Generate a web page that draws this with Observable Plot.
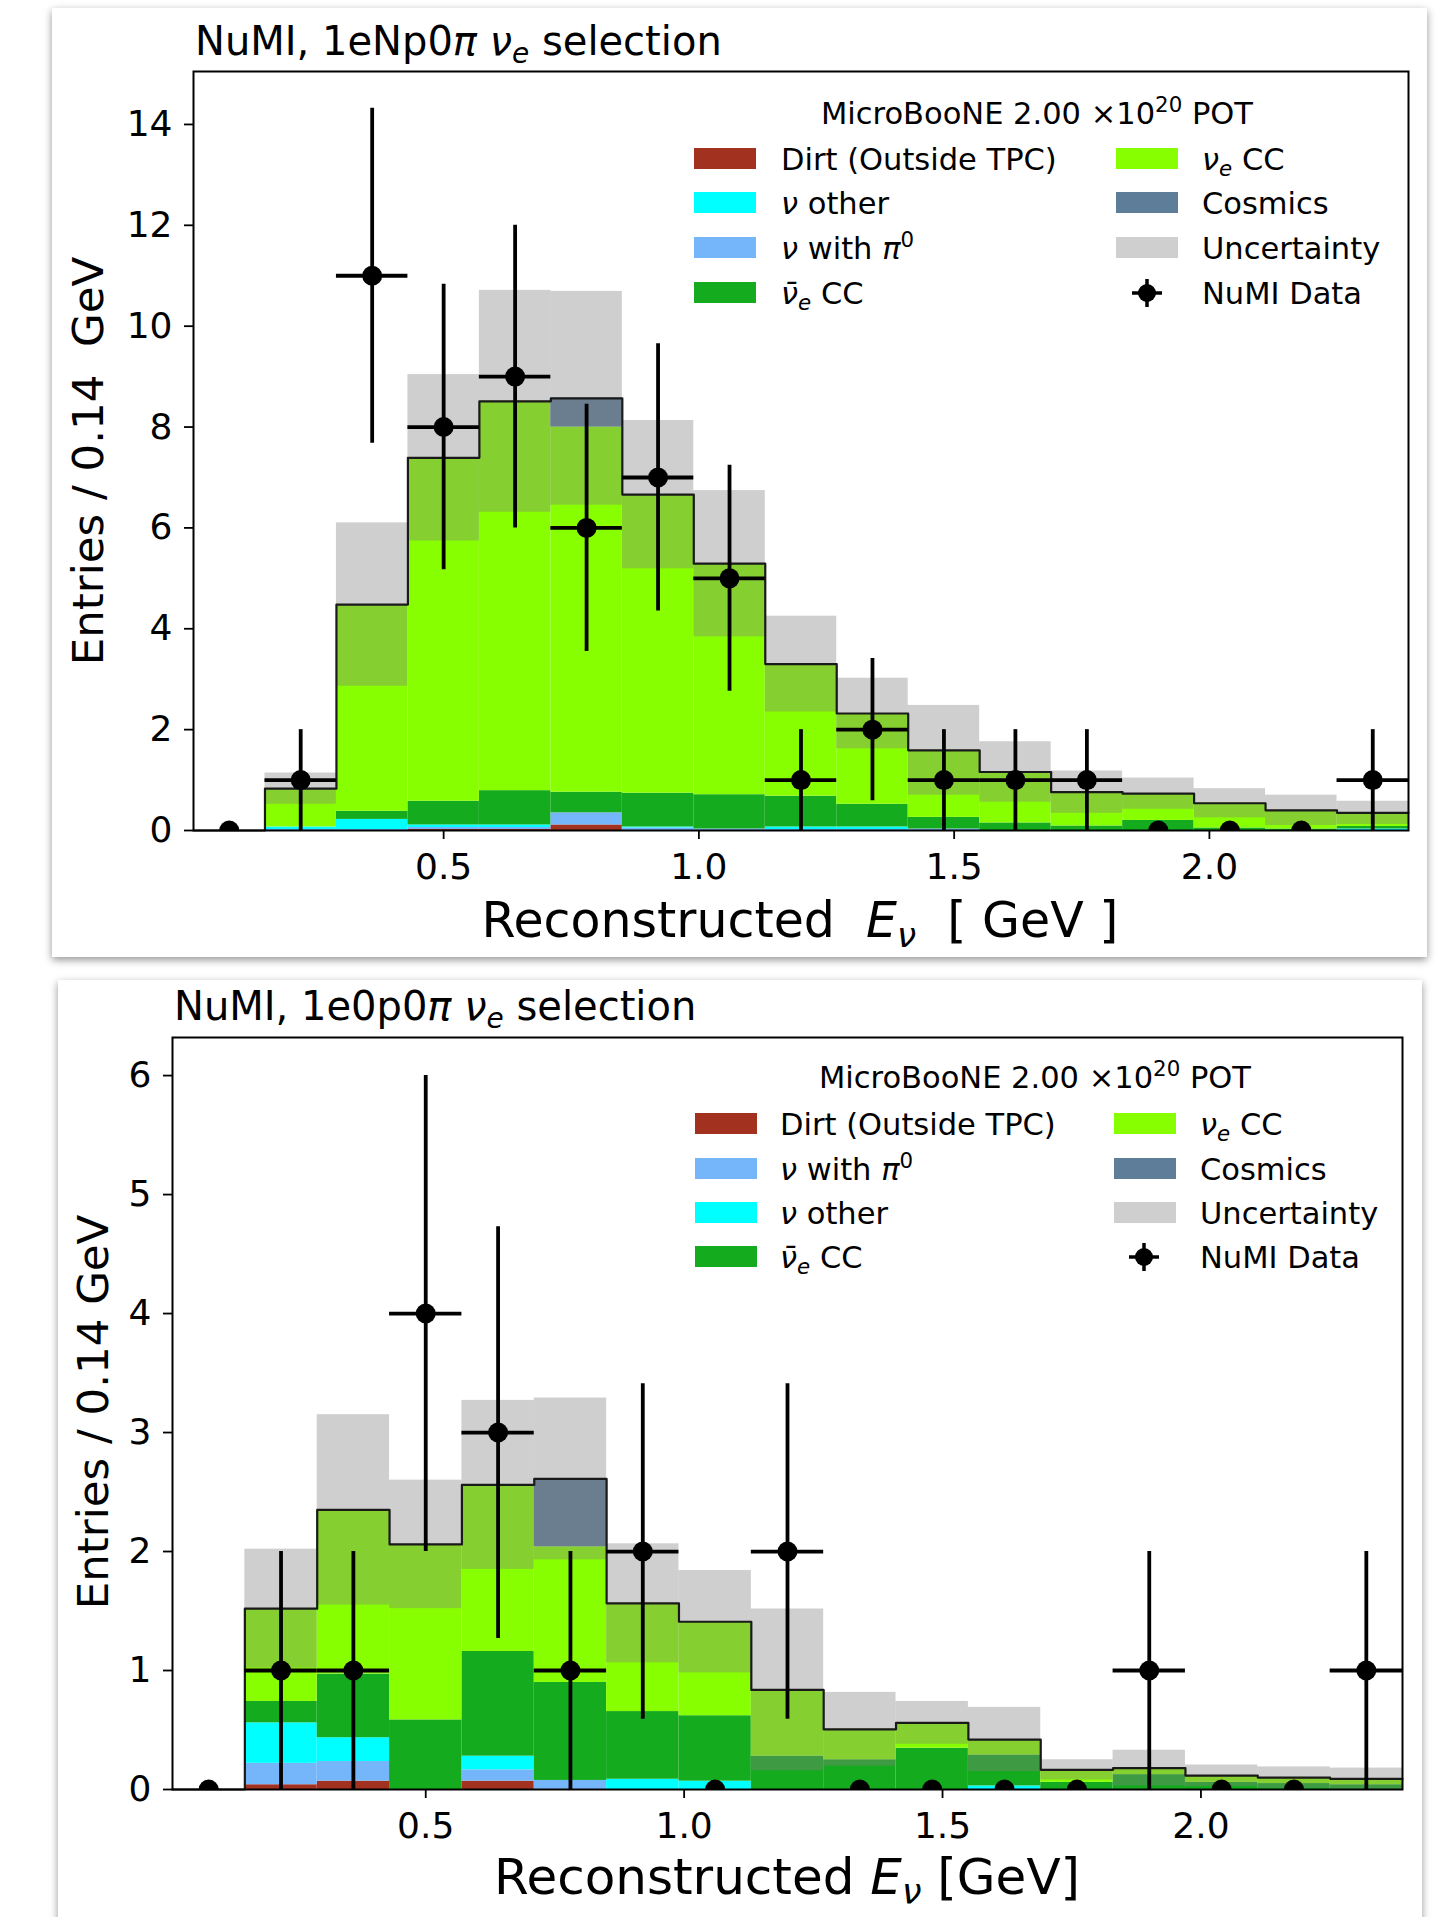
<!DOCTYPE html>
<html><head><meta charset="utf-8">
<script src="https://cdn.jsdelivr.net/npm/d3@7"></script>
<script src="https://cdn.jsdelivr.net/npm/@observablehq/plot@0.6"></script>
<style>
body{margin:0;background:#fff;}
#page{position:relative;width:1450px;height:1917px;overflow:hidden;background:#fff;font-family:"DejaVu Sans";}
.card{position:absolute;background:#fff;box-shadow:0 3px 8px rgba(0,0,0,0.42);}
.card svg{display:block;max-width:none;}
#overlay{position:absolute;left:0;top:0;pointer-events:none;}
</style></head>
<body><div id="page"></div>
<script>
// ---------- data ----------
const binCenters = [0.08,0.22,0.36,0.50,0.64,0.78,0.92,1.06,1.20,1.34,1.48,1.62,1.76,1.90,2.04,2.18,2.32];
const binWidth = 0.14;
const xTicks = [0.5, 1.0, 1.5, 2.0];
const componentKeys = ["dirt","nuPi0","nuOther","nuebarCC","nueCC","cosmic"];
const componentColors = ["#a3311f","#75b5fa","#00ffff","#15ab1f","#88ff00","#5d7d99"];

// 1eNp0pi
const np_dirt     = [0,0,0,0.02,0.02,0.11,0,0,0,0,0,0,0,0,0,0,0];
const np_nuPi0    = [0,0.02,0.02,0.04,0.04,0.24,0.05,0.03,0.02,0.02,0.03,0,0,0,0,0,0];
const np_nuOther  = [0,0.05,0.20,0.05,0.05,0,0.02,0,0.05,0.05,0,0,0,0,0,0,0.03];
const np_nuebarCC = [0,0,0.16,0.47,0.68,0.41,0.67,0.68,0.61,0.45,0.23,0.15,0.09,0.20,0.05,0.03,0.05];
const np_nueCC    = [0,0.76,4.10,6.81,7.72,7.24,5.92,4.58,2.62,1.80,1.33,1.01,0.67,0.53,0.49,0.37,0.27];
const np_cosmic   = [0,0,0,0,0,0.57,0,0,0,0,0,0,0,0,0,0,0];
const np_unc      = [0,0.31,1.62,1.65,2.20,2.12,1.47,1.45,0.95,0.70,0.89,0.60,0.42,0.31,0.29,0.30,0.23];
const np_data     = [0,1,11,8,9,6,7,5,1,2,1,1,1,0,0,0,1];
const np_dataErr  = [0,1,3.32,2.83,3,2.45,2.65,2.24,1,1.41,1,1,1,0,0,0,1];
const np_yTicks   = [0,2,4,6,8,10,12,14];

// 1e0p0pi
const zp_dirt     = [0,0.04,0.07,0,0.07,0,0,0,0,0,0,0,0,0,0,0,0];
const zp_nuPi0    = [0,0.18,0.165,0,0.095,0.076,0,0,0,0,0,0,0,0,0,0,0];
const zp_nuOther  = [0,0.34,0.20,0,0.115,0,0.086,0.07,0,0,0,0.03,0,0,0,0,0];
const zp_nuebarCC = [0,0.18,0.535,0.585,0.88,0.824,0.569,0.55,0.28,0.25,0.347,0.26,0.06,0.125,0.06,0.05,0.04];
const zp_nueCC    = [0,0.78,1.38,1.475,1.40,1.14,0.91,0.79,0.557,0.256,0.213,0.13,0.105,0.055,0.056,0.05,0.05];
const zp_cosmic   = [0,0,0,0,0,0.57,0,0,0,0,0,0,0,0,0,0,0];
const zp_unc      = [0,0.50,0.80,0.54,0.71,0.68,0.50,0.43,0.68,0.31,0.18,0.27,0.085,0.15,0.09,0.09,0.09];
const zp_data     = [0,1,1,4,3,1,2,0,2,0,0,0,0,1,0,0,1];
const zp_dataErr  = [0,1,1,2,1.73,1,1.41,0,1.41,0,0,0,0,1,0,0,1];
const zp_yTicks   = [0,1,2,3,4,5,6];

// ---------- chart ----------
function panel(cfg) {
  const rows = [];
  const totals = binCenters.map(() => 0);
  cfg.comps.forEach((vals, k) => {
    vals.forEach((v, i) => {
      if (v > 0) rows.push({x1: binCenters[i] - binWidth/2, x2: binCenters[i] + binWidth/2,
                            y1: totals[i], y2: totals[i] + v, comp: componentKeys[k]});
      totals[i] += v;
    });
  });
  const bins = binCenters.map((c, i) => ({c, x1: c - binWidth/2, x2: c + binWidth/2,
    total: totals[i], err: cfg.unc[i], n: cfg.data[i], e: cfg.dataErr[i]}));
  const last = bins[bins.length - 1];
  const steps = bins.map(b => ({x: b.x1, y: b.total})).concat([{x: last.x2, y: last.total}]);
  const nz = bins.filter(b => b.n > 0);
  return Plot.plot({
    width: cfg.width, height: cfg.height,
    marginLeft: cfg.ml, marginRight: cfg.mr, marginTop: cfg.mt, marginBottom: cfg.mb,
    style: {fontFamily: "DejaVu Sans", fontSize: "36px", color: "black", background: "white", overflow: "visible"},
    x: {domain: [0.01, 2.39]},
    y: {domain: [0, cfg.yMax]},
    color: {domain: componentKeys, range: componentColors},
    marks: [
      Plot.rect(rows, {x1: "x1", x2: "x2", y1: "y1", y2: "y2", fill: "comp", inset: 0}),
      Plot.rect(bins.filter(b => b.err > 0), {x1: "x1", x2: "x2", y1: b => b.total - b.err, y2: b => b.total + b.err,
        fill: "#808080", fillOpacity: 0.38, inset: 0, clip: true}),
      Plot.line(steps, {x: "x", y: "y", curve: "step-after", stroke: "#1a1a1a", strokeWidth: 2.2}),
      Plot.ruleY(nz, {x1: "x1", x2: "x2", y: "n", stroke: "black", strokeWidth: 3.8}),
      Plot.ruleX(nz, {x: "c", y1: b => b.n - b.e, y2: b => b.n + b.e, stroke: "black", strokeWidth: 3.8}),
      Plot.dot(bins, {x: "c", y: "n", r: 10, fill: "black", stroke: null, clip: true}),
      Plot.axisY({ticks: cfg.yTicks, tickFormat: d3.format("d"), tickSize: 9, tickPadding: 12, label: null, strokeWidth: 1.8}),
      Plot.axisX({ticks: xTicks, tickFormat: d3.format(".1f"), tickSize: 9, tickPadding: 14, label: null, strokeWidth: 1.8}),
      Plot.frame({stroke: "black", strokeWidth: 2})
    ]
  });
}

const page = document.getElementById("page");
function addCard(left, top, w, h, node) {
  const d = document.createElement("div");
  d.className = "card";
  Object.assign(d.style, {left: left + "px", top: top + "px", width: w + "px", height: h + "px"});
  if (node) d.appendChild(node);
  page.appendChild(d);
}

addCard(52, 8, 1375, 949, panel({
  comps: [np_dirt, np_nuPi0, np_nuOther, np_nuebarCC, np_nueCC, np_cosmic],
  unc: np_unc, data: np_data, dataErr: np_dataErr, yMax: 15.05, yTicks: np_yTicks,
  width: 1375, height: 949, ml: 141, mr: 19, mt: 63, mb: 127
}));
addCard(58, 980, 1364, 945, panel({
  comps: [zp_dirt, zp_nuPi0, zp_nuOther, zp_nuebarCC, zp_nueCC, zp_cosmic],
  unc: zp_unc, data: zp_data, dataErr: zp_dataErr, yMax: 6.32, yTicks: zp_yTicks,
  width: 1364, height: 945, ml: 114, mr: 20, mt: 57, mb: 136
}));

// ---------- text overlay: titles, axis labels, legends ----------
const NB = "\u00a0";
const ov = d3.select(page).append("svg").attr("id", "overlay")
  .attr("width", 1450).attr("height", 1917)
  .style("font-family", "DejaVu Sans");

function rich(g, x, y, size, parts, anchor, transform) {
  const t = g.append("text").attr("font-size", size).attr("fill", "black")
    .attr("text-anchor", anchor || "start");
  if (transform) t.attr("transform", transform); else t.attr("x", x).attr("y", y);
  let shift = 0;
  for (const p of parts) {
    const s = t.append("tspan").text(p.t);
    let target = 0, fs = size;
    if (p.sub) { target = size * 0.2; fs = size * 0.7; }
    if (p.sup) { target = -size * 0.4; fs = size * 0.7; }
    s.attr("font-size", fs);
    if (p.i) s.attr("font-style", "italic");
    if (target - shift !== 0) s.attr("dy", target - shift);
    shift = target;
  }
  return t;
}

const labelParts = {
  dirt: [{t: "Dirt (Outside TPC)"}],
  nuPi0: [{t: "ν", i: 1}, {t: " with "}, {t: "π", i: 1}, {t: "0", sup: 1}],
  nuOther: [{t: "ν", i: 1}, {t: " other"}],
  nuebarCC: [{t: "ν\u0304", i: 1}, {t: "e", i: 1, sub: 1}, {t: " CC"}],
  nueCC: [{t: "ν", i: 1}, {t: "e", i: 1, sub: 1}, {t: " CC"}],
  cosmic: [{t: "Cosmics"}],
  unc: [{t: "Uncertainty"}],
  data: [{t: "NuMI Data"}]
};
const colorOf = k => componentColors[componentKeys.indexOf(k)];

function legend(L) {
  const g = ov.append("g");
  rich(g, L.titleX, L.titleY, 30.5, [{t: "MicroBooNE 2.00 ×10"}, {t: "20", sup: 1}, {t: " POT"}], "middle");
  const cols = [L.col1, L.col2];
  cols.forEach((col, ci) => {
    col.forEach((key, ri) => {
      const base = L.baselines[ri];
      const sx = L.swatchX[ci], tx = L.textX[ci];
      if (key === "data") {
        const cx = L.markerX, cy = base - 11;
        g.append("line").attr("x1", cx - 15).attr("x2", cx + 15).attr("y1", cy).attr("y2", cy).attr("stroke", "black").attr("stroke-width", 3.5);
        g.append("line").attr("x1", cx).attr("x2", cx).attr("y1", cy - 14).attr("y2", cy + 14).attr("stroke", "black").attr("stroke-width", 3.5);
        g.append("circle").attr("cx", cx).attr("cy", cy).attr("r", 9).attr("fill", "black");
      } else if (key === "unc") {
        g.append("rect").attr("x", sx).attr("y", base - 22).attr("width", 62).attr("height", 21).attr("fill", "#808080").attr("fill-opacity", 0.38);
      } else {
        g.append("rect").attr("x", sx).attr("y", base - 22).attr("width", 62).attr("height", 21).attr("fill", colorOf(key));
      }
      rich(g, tx, base, 30.5, labelParts[key]);
    });
  });
}

// top panel texts
rich(ov, 195, 55, 40, [{t: "NuMI, 1eNp0"}, {t: "π", i: 1}, {t: " "}, {t: "ν", i: 1}, {t: "e", i: 1, sub: 1}, {t: " selection"}]);
rich(ov, 0, 0, 43.5, [{t: "Entries / 0.14 " + NB + "GeV"}], "middle", "translate(103,461) rotate(-90)");
rich(ov, 800, 937, 49, [{t: "Reconstructed " + NB}, {t: "E", i: 1}, {t: "ν", i: 1, sub: 1}, {t: NB + " [ GeV ]"}], "middle");
legend({titleX: 1037, titleY: 124, baselines: [170, 214, 259, 304],
  col1: ["dirt", "nuOther", "nuPi0", "nuebarCC"], col2: ["nueCC", "cosmic", "unc", "data"],
  swatchX: [694, 1116], textX: [781, 1202], markerX: 1147});

// bottom panel texts
rich(ov, 174, 1020, 40, [{t: "NuMI, 1e0p0"}, {t: "π", i: 1}, {t: " "}, {t: "ν", i: 1}, {t: "e", i: 1, sub: 1}, {t: " selection"}]);
rich(ov, 0, 0, 43.5, [{t: "Entries / 0.14 GeV"}], "middle", "translate(108,1412) rotate(-90)");
rich(ov, 787, 1894, 50, [{t: "Reconstructed "}, {t: "E", i: 1}, {t: "ν", i: 1, sub: 1}, {t: " [GeV]"}], "middle");
legend({titleX: 1035, titleY: 1088, baselines: [1135, 1180, 1224, 1268],
  col1: ["dirt", "nuPi0", "nuOther", "nuebarCC"], col2: ["nueCC", "cosmic", "unc", "data"],
  swatchX: [695, 1114], textX: [780, 1200], markerX: 1144});
</script>
</body></html>
